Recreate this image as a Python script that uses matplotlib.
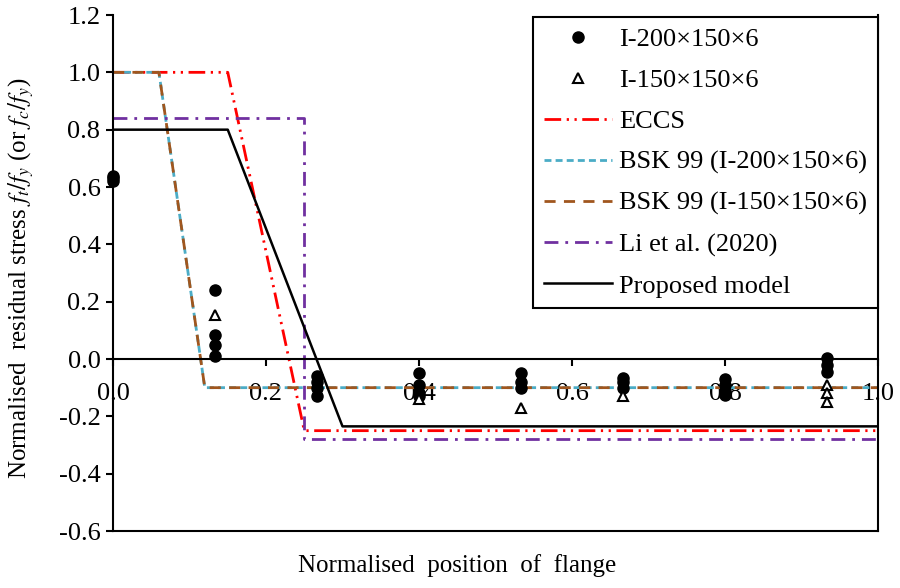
import numpy as np
import matplotlib
matplotlib.use("Agg")
import matplotlib.pyplot as plt
from matplotlib.ticker import FormatStrFormatter

# ---------------- data -----------------
# measured points, I-200x150x6 (filled circles)
x_200 = [0.0, 0.0, 0.0,
         0.133, 0.133, 0.133, 0.133,
         0.267, 0.267, 0.267, 0.267,
         0.4, 0.4, 0.4, 0.4,
         0.533, 0.533, 0.533,
         0.667, 0.667, 0.667,
         0.8, 0.8, 0.8, 0.8,
         0.933, 0.933, 0.933]
y_200 = [0.62, 0.63, 0.64,
         0.24, 0.085, 0.05, 0.01,
         -0.06, -0.08, -0.10, -0.13,
         -0.05, -0.09, -0.12, -0.13,
         -0.05, -0.08, -0.10,
         -0.065, -0.08, -0.10,
         -0.07, -0.09, -0.11, -0.125,
         0.005, -0.02, -0.045]

# measured points, I-150x150x6 (open triangles)
x_150 = [0.133, 0.4, 0.533, 0.667, 0.933, 0.933, 0.933]
y_150 = [0.155, -0.14, -0.17, -0.13, -0.09, -0.12, -0.15]

# models
eccs_x = [0.0, 0.15, 0.25, 1.0]
eccs_y = [1.0, 1.0, -0.25, -0.25]
bsk200_x = [0.0, 0.06, 0.12, 1.0]
bsk200_y = [1.0, 1.0, -0.10, -0.10]
bsk150_x = [0.0, 0.06, 0.12, 1.0]
bsk150_y = [1.0, 1.0, -0.10, -0.10]
li_x = [0.0, 0.25, 0.25, 1.0]
li_y = [0.84, 0.84, -0.28, -0.28]
prop_x = [0.0, 0.15, 0.30, 1.0]
prop_y = [0.80, 0.80, -0.235, -0.235]

# ---------------- style -----------------
plt.rcParams['font.family'] = ['Liberation Serif', 'DejaVu Serif']
plt.rcParams['mathtext.fontset'] = 'stix'
plt.rcParams['font.size'] = 18
plt.rcParams['axes.unicode_minus'] = False

fig = plt.figure(figsize=(9, 5.88), dpi=100)
ax = fig.add_axes([113/900, 1-531/588, 765/900, 516/588])

ax.plot(eccs_x, eccs_y, color='#FF0000', lw=2, dashes=(6, 2, 0.8, 2, 0.8, 2), label='ECCS')
ax.plot(bsk200_x, bsk200_y, color='#4BACC6', lw=2, dashes=(2.5, 1.5), label='BSK 99 (I-200×150×6)')
ax.plot(bsk150_x, bsk150_y, color='#A0561E', lw=2, dashes=(4, 3), label='BSK 99 (I-150×150×6)')
ax.plot(li_x, li_y, color='#7030A0', lw=2, dashes=(5, 2.5, 1, 2.5), label='Li et al. (2020)')
ax.plot(prop_x, prop_y, color='black', lw=1.8, label='Proposed model')

h1, = ax.plot(x_200, y_200, 'o', color='black', ms=8, zorder=5, clip_on=False,
              label='I-200×150×6')
h2, = ax.plot(x_150, y_150, '^', mfc='white', mec='black', mew=1.5, ms=7, zorder=6,
              clip_on=False, label='I-150×150×6')

ax.set_xlim(0, 1.0)
ax.set_ylim(-0.6, 1.2)
ax.set_xticks(np.arange(0, 1.01, 0.2))
ax.set_yticks(np.arange(-0.6, 1.21, 0.2))
ax.xaxis.set_major_formatter(FormatStrFormatter('%.1f'))
ax.yaxis.set_major_formatter(FormatStrFormatter('%.1f'))

# x axis crosses at zero, plot area has no top line
ax.spines['bottom'].set_position(('data', 0))
ax.spines['top'].set_visible(False)
for s in ax.spines.values():
    s.set_linewidth(1.5)
ax.plot([0, 1], [-0.6, -0.6], color='black', lw=1.5, clip_on=False, zorder=3)
ax.tick_params(axis='x', direction='out', length=5, width=1.5, pad=12, labelsize=19)
ax.tick_params(axis='y', direction='out', length=5, width=1.5, pad=4, labelsize=19)

ax.set_xlabel('Normalised  position  of  flange')
ax.xaxis.set_label_coords(0.45, -0.045)
ax.set_ylabel('Normalised  residual stress $f_t/f_y$ (or $f_c/f_y$)')
ax.yaxis.set_label_coords(-0.1, 0.49)

handles, labels = ax.get_legend_handles_labels()
order = [5, 6, 0, 1, 2, 3, 4]
leg = ax.legend([handles[i] for i in order], [labels[i] for i in order],
                loc='upper right', bbox_to_anchor=(1.0, 0.996), frameon=True,
                fancybox=False, edgecolor='black', handlelength=2.6,
                labelspacing=0.66, borderpad=0.4, handletextpad=0.27,
                borderaxespad=0.0, fontsize=19)
leg.get_frame().set_linewidth(1.5)
leg.get_frame().set_alpha(1)

fig.savefig('out.png', dpi=100)
